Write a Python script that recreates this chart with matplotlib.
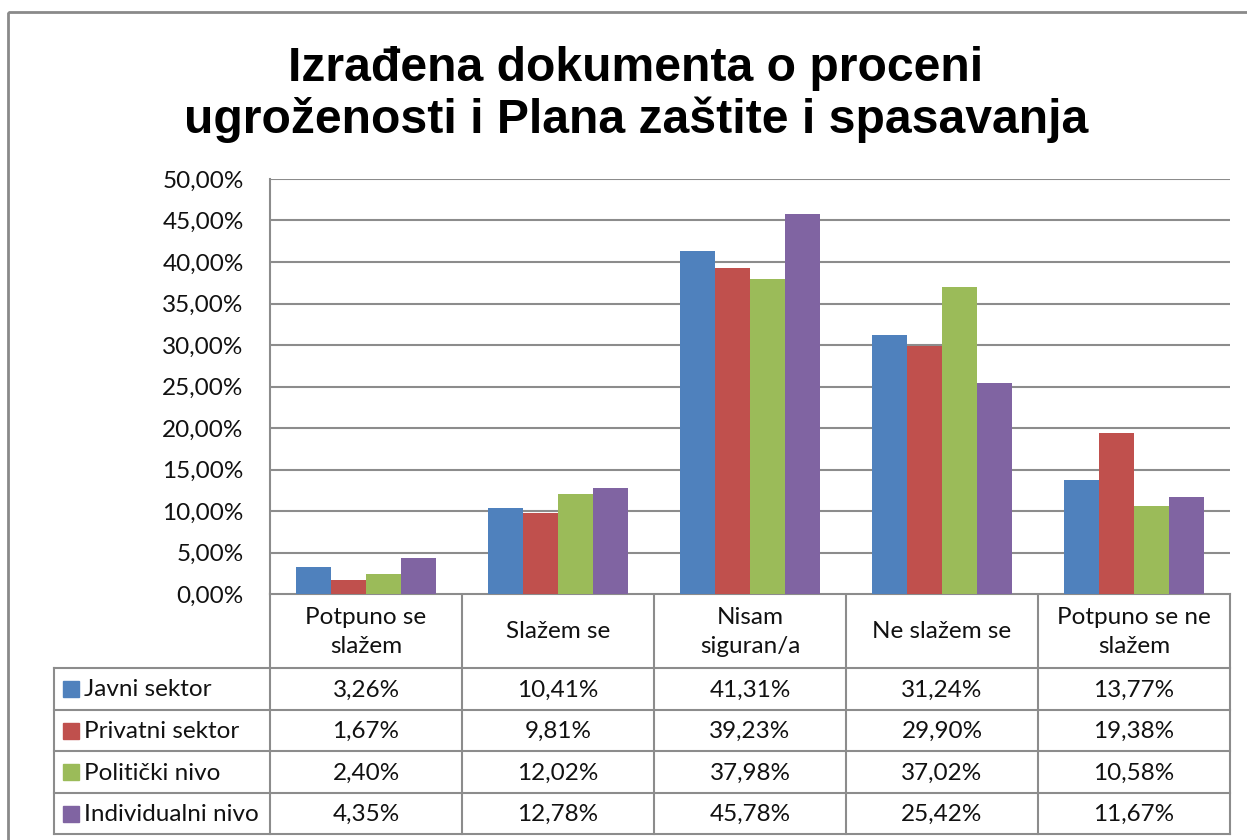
import matplotlib.pyplot as plt
from matplotlib.patches import Rectangle
import numpy as np

# categories (answers) and series
categories = ["Potpuno se\nslažem", "Slažem se", "Nisam\nsiguran/a", "Ne slažem se", "Potpuno se ne\nslažem"]
series_names = ["Javni sektor", "Privatni sektor", "Politički nivo", "Individualni nivo"]

javni = [3.26, 10.41, 41.31, 31.24, 13.77]
privatni = [1.67, 9.81, 39.23, 29.90, 19.38]
politicki = [2.40, 12.02, 37.98, 37.02, 10.58]
individualni = [4.35, 12.78, 45.78, 25.42, 11.67]

colors = ["#4F81BD", "#C0504D", "#9BBB59", "#8064A2"]
title = "Izrađena dokumenta o proceni\nugroženosti i Plana zaštite i spasavanja"

W, H = 1247, 840
grid_col = "#8C8C8C"
txt_col = "#111111"
font = "Lato"
fs = 17.5

fig = plt.figure(figsize=(W / 100, H / 100), dpi=100)

# overlay axes in pixel coords for frame, title and table
bg = fig.add_axes([0, 0, 1, 1])
bg.set_xlim(0, W)
bg.set_ylim(H, 0)
bg.axis("off")
bg.add_patch(Rectangle((8, 12), W + 20, H + 20, fill=False, edgecolor="#8A8A8A", lw=2))

bg.text(636, 133, title, ha="center", va="baseline", fontsize=34.7, fontweight="bold",
        family="Liberation Sans", linespacing=1.15)

# plot area
px0, px1, py0, py1 = 270, 1230, 179, 594
ax = fig.add_axes([px0 / W, 1 - py1 / H, (px1 - px0) / W, (py1 - py0) / H])
all_series = [javni, privatni, politicki, individualni]
x = np.arange(len(categories))
bw = 0.182
for i, (vals, c) in enumerate(zip(all_series, colors)):
    ax.bar(x + (i - 1.5) * bw, vals, bw, color=c, zorder=3)

ax.set_xlim(-0.5, len(categories) - 0.5)
ax.set_ylim(0, 50)
ax.set_yticks(np.arange(0, 50.1, 5))
ax.set_yticklabels([f"{v:.2f}%".replace(".", ",") for v in np.arange(0, 50.1, 5)],
                   fontsize=fs, family=font, color=txt_col)
ax.tick_params(axis="y", length=0, pad=19)
ax.set_xticks([])
ax.grid(axis="y", color=grid_col, lw=1.5, zorder=0)
for s in ["top", "right", "bottom"]:
    ax.spines[s].set_visible(False)
ax.spines["left"].set_color(grid_col)
ax.spines["left"].set_linewidth(1.5)

# data table below the plot
col_w = (px1 - px0) / len(categories)
tab_left = 54
row_lines = [668, 710, 751, 793, 834]
lc = dict(color=grid_col, lw=1.5)
bg.plot([px0, px1], [py1, py1], **lc)
for k in range(len(categories) + 1):
    xx = px0 + k * col_w
    bg.plot([xx, xx], [py1, row_lines[-1]], **lc)
for yy in row_lines:
    bg.plot([tab_left, px1], [yy, yy], **lc)
bg.plot([tab_left, tab_left], [row_lines[0], row_lines[-1]], **lc)

for k, cat in enumerate(categories):
    cx = px0 + (k + 0.5) * col_w
    bg.text(cx, (py1 + row_lines[0]) / 2 + 1, cat, ha="center", va="center",
            fontsize=fs, family=font, color=txt_col, linespacing=1.45)

for r, (name, vals, c) in enumerate(zip(series_names, all_series, colors)):
    cy = (row_lines[r] + row_lines[r + 1]) / 2
    bg.add_patch(Rectangle((63, cy - 8), 16, 16, color=c))
    bg.text(84, cy + 1, name, ha="left", va="center", fontsize=fs, family=font, color=txt_col)
    for k, v in enumerate(vals):
        cx = px0 + (k + 0.5) * col_w
        bg.text(cx, cy + 1, f"{v:.2f}%".replace(".", ","), ha="center", va="center",
                fontsize=fs, family=font, color=txt_col)

fig.savefig("out.png", dpi=100)
